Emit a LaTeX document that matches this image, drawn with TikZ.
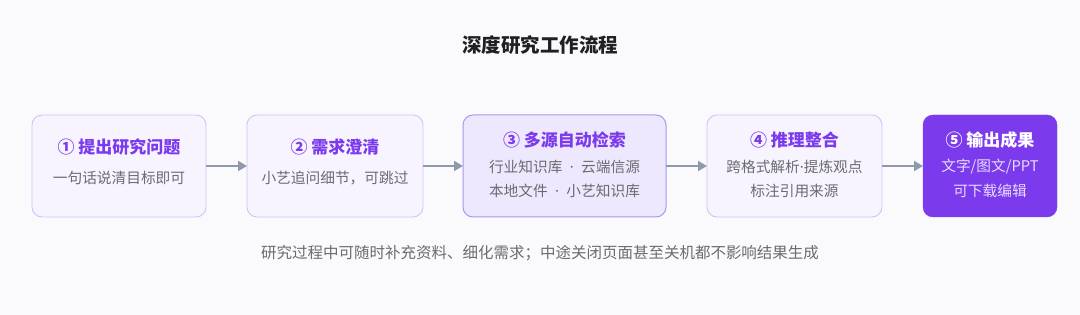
\documentclass[tikz,border=0pt]{standalone}
\usepackage{fontspec}
\setmainfont{Noto Sans CJK SC}
\newfontfamily\latinf{Noto Sans}
\newcommand{\mdot}{{\latinf ·}}
\newcommand{\wdot}{\hspace{0.5em}{\latinf ·}\hspace{0.5em}}
\usetikzlibrary{arrows.meta,positioning}
\definecolor{bgc}{HTML}{FAFAFD}
\definecolor{boxfill}{HTML}{F7F4FF}
\definecolor{boxline}{HTML}{CFC3F7}
\definecolor{hifill}{HTML}{EEE8FE}
\definecolor{hiline}{HTML}{A997EE}
\definecolor{purp}{HTML}{7C3AED}
\definecolor{subgray}{HTML}{6B6B70}
\definecolor{arrowc}{HTML}{8E9AAB}
\definecolor{titlec}{HTML}{1F1F24}
\definecolor{lightsub}{HTML}{E6DCFF}
\tikzset{
  stepbox/.style={draw=boxline, fill=boxfill, line width=0.9pt, rounded corners=10pt},
  hibox/.style={draw=hiline, fill=hifill, line width=1pt, rounded corners=10pt},
  endbox/.style={draw=purp, fill=purp, rounded corners=10pt},
  boxtitle/.style={font=\fontsize{17pt}{20pt}\selectfont\bfseries, text=purp},
  boxsub/.style={font=\fontsize{14.7pt}{17pt}\selectfont, text=subgray},
  flow/.style={draw=arrowc, line width=1.8pt, -{Triangle[length=9pt,width=10pt]}},
}
\begin{document}
\begin{tikzpicture}[x=1pt,y=-1pt]
\fill[bgc] (0,0) rectangle (1080,315);
\useasboundingbox (0,0) rectangle (1080,315);
\node[font=\fontsize{19.5pt}{22pt}\selectfont\bfseries, text=titlec] (title) at (540,45) {深度研究工作流程};
% boxes
\path[stepbox] (32,115) rectangle (206,217);
\coordinate (b1w) at (32,166); \coordinate (b1e) at (206,166);
\path[stepbox] (247,115) rectangle (423,217);
\coordinate (b2w) at (247,166); \coordinate (b2e) at (423,166);
\path[hibox] (463,115) rectangle (666,217);
\coordinate (b3w) at (463,166); \coordinate (b3e) at (666,166);
\path[stepbox] (707,115) rectangle (882,217);
\coordinate (b4w) at (707,166); \coordinate (b4e) at (882,166);
\path[endbox] (923,115) rectangle (1057,217);
\coordinate (b5w) at (923,166);
% texts
\node[boxtitle] (t1) at (119,147) {① 提出研究问题};
\node[boxsub] (s1) at (119,178) {一句话说清目标即可};
\node[boxtitle] (t2) at (335,147) {② 需求澄清};
\node[boxsub] (s2) at (335,178) {小艺追问细节，可跳过};
\node[boxtitle] (t3) at (564.5,140) {③ 多源自动检索};
\node[boxsub] (s3a) at (564.5,167) {行业知识库\wdot{}云端信源};
\node[boxsub] (s3b) at (564.5,191) {本地文件\wdot{}小艺知识库};
\node[boxtitle] (t4) at (794.5,140) {④ 推理整合};
\node[boxsub] (s4a) at (794.5,167) {跨格式解析\mdot{}提炼观点};
\node[boxsub] (s4b) at (794.5,191) {标注引用来源};
\node[boxtitle, text=white] (t5) at (990,140) {⑤ 输出成果};
\node[boxsub, text=lightsub] (s5a) at (990,167) {文字/图文/PPT};
\node[boxsub, text=lightsub] (s5b) at (990,191) {可下载编辑};
% arrows
\draw[flow] (b1e) -- (b2w);
\draw[flow] (b2e) -- (b3w);
\draw[flow] (b3e) -- (b4w);
\draw[flow] (b4e) -- (b5w);
\node[font=\fontsize{15.5pt}{18pt}\selectfont, text=subgray] (note) at (540,253) {研究过程中可随时补充资料、细化需求；中途关闭页面甚至关机都不影响结果生成};
\end{tikzpicture}
\end{document}
